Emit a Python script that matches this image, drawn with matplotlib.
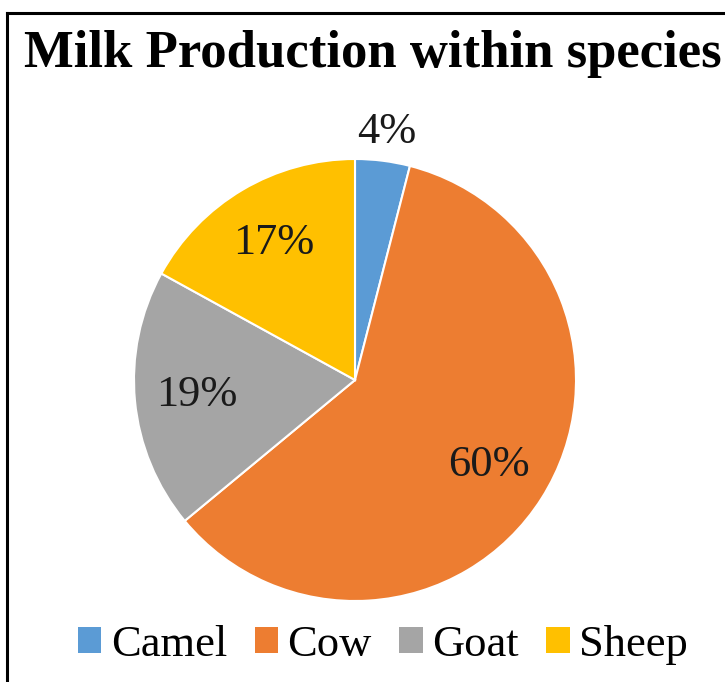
import numpy as np
import matplotlib
matplotlib.use("Agg")
import matplotlib.pyplot as plt
from matplotlib.lines import Line2D
from matplotlib.patches import Patch

categories = ["Camel", "Cow", "Goat", "Sheep"]
values = [4, 60, 19, 17]
colors = ["#5B9BD5", "#ED7D31", "#A5A5A5", "#FFC000"]
title = "Milk Production within species"

plt.rcParams['font.family'] = ['Liberation Serif', 'DejaVu Serif']

W, H = 725, 682
fig = plt.figure(figsize=(W / 100, H / 100), dpi=100)

cx, cy, R = 355, 380, 221
ax = fig.add_axes([(cx - R) / W, (H - cy - R) / H, 2 * R / W, 2 * R / H])
wedges, texts, autotexts = ax.pie(
    values, colors=colors, startangle=90, counterclock=False,
    autopct=lambda p: f"{p:.0f}%", pctdistance=0.72,
    wedgeprops=dict(edgecolor="white", linewidth=1.5),
    textprops=dict(fontsize=32, color="#1a1a1a"))
ax.set_xlim(-1, 1)
ax.set_ylim(-1, 1)
ax.set_aspect("equal")
ax.axis("off")

# small slice label outside
w0 = wedges[0]
mid = np.deg2rad((w0.theta1 + w0.theta2) / 2)
autotexts[0].set_position((1.13 * np.cos(mid), 1.13 * np.sin(mid)))
autotexts[0].set_clip_on(False)

fig.text(373 / W, 1 - 67 / H, title, ha="center", va="baseline",
         fontsize=38, fontweight="bold", color="black")

handles = [Patch(facecolor=c, edgecolor="none") for c in colors]
leg = fig.legend(handles, categories, loc="center", ncol=4,
                 bbox_to_anchor=(383 / W, 1 - 645 / H), frameon=False,
                 fontsize=32, handlelength=0.52, handleheight=0.52,
                 handletextpad=0.22, columnspacing=0.62, borderaxespad=0,
                 borderpad=0)

lw = 2.2
fig.add_artist(Line2D([7 / W, 1.0], [1 - 13 / H, 1 - 13 / H], transform=fig.transFigure,
                      color="black", linewidth=lw))
fig.add_artist(Line2D([7 / W, 7 / W], [1 - 13 / H, 0.0], transform=fig.transFigure,
                      color="black", linewidth=lw))

fig.savefig("out.png", dpi=100)
